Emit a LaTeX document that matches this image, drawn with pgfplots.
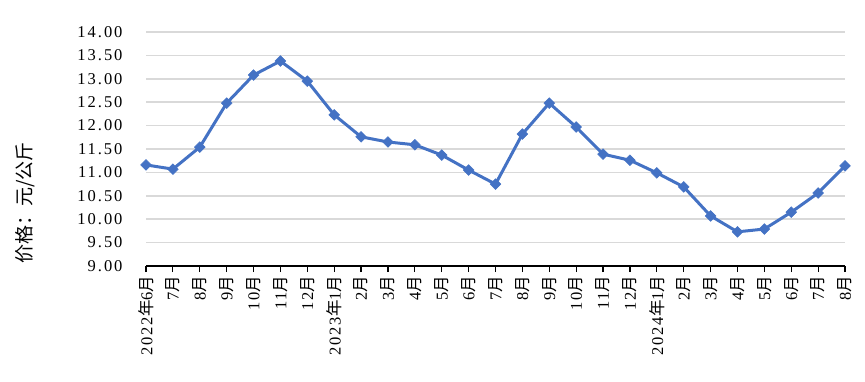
\documentclass[border=0pt]{standalone}
\usepackage{fontspec}
\setmainfont{Liberation Serif}
\newfontfamily\numfont[LetterSpace=12]{Liberation Serif}
\newfontfamily\cjk{Noto Sans CJK SC}
\usepackage{pgfplots}
\pgfplotsset{compat=1.18}
\definecolor{lineblue}{RGB}{68,114,196}
\definecolor{gridgray}{RGB}{217,217,217}
\newcommand{\N}{{\cjk 年}}
\newcommand{\M}{{\cjk 月}}
\begin{document}
\begin{tikzpicture}
\begin{axis}[
  scale only axis,
  width=699pt, height=234pt,
  xmin=0, xmax=26, ymin=9, ymax=14,
  clip=false,
  axis x line*=bottom,
  axis y line*=left,
  x axis line style={black, line width=1.6pt, -},
  y axis line style={draw=none},
  ytick={9,9.5,...,14},
  ymajorgrids,
  grid style={gridgray, line width=1.6pt},
  tick align=outside,
  xtick style={black, line width=1.2pt},
  ytick style={draw=none},
  major tick length=6pt,
  yticklabel style={font=\fontsize{16.5}{18}\selectfont\numfont, xshift=-14pt},
  /pgf/number format/.cd, fixed, fixed zerofill, precision=2, assume math mode=true,
  /pgfplots/.cd,
  xtick={0,...,26},
  xticklabels={2022\N6\M,7\M,8\M,9\M,10\M,11\M,12\M,2023\N1\M,2\M,3\M,4\M,5\M,6\M,7\M,8\M,9\M,10\M,11\M,12\M,2024\N1\M,2\M,3\M,4\M,5\M,6\M,7\M,8\M},
  xticklabel style={font=\fontsize{16.5}{18}\selectfont\numfont, rotate=90, anchor=east},
  ylabel={\cjk 价格：元/公斤},
  ylabel style={font=\fontsize{19}{21}\selectfont, at={(axis description cs:-0.173,0.27)}, anchor=center, rotate=0},
]
\addplot[lineblue, line width=3pt, mark=square*, mark size=3.8pt, mark options={rotate=45, fill=lineblue, draw=lineblue, line width=0.5pt}]
coordinates {
(0,11.16) (1,11.07) (2,11.54) (3,12.48) (4,13.08) (5,13.38) (6,12.95)
(7,12.23) (8,11.76) (9,11.65) (10,11.59) (11,11.37) (12,11.05) (13,10.75)
(14,11.82) (15,12.48) (16,11.97) (17,11.39) (18,11.26)
(19,10.99) (20,10.69) (21,10.07) (22,9.73) (23,9.79) (24,10.15) (25,10.56) (26,11.14)
};
\path[draw=none] (axis description cs:-0.2089,-0.4915) rectangle (axis description cs:1.0286,1.1368);
\end{axis}
\end{tikzpicture}
\end{document}
